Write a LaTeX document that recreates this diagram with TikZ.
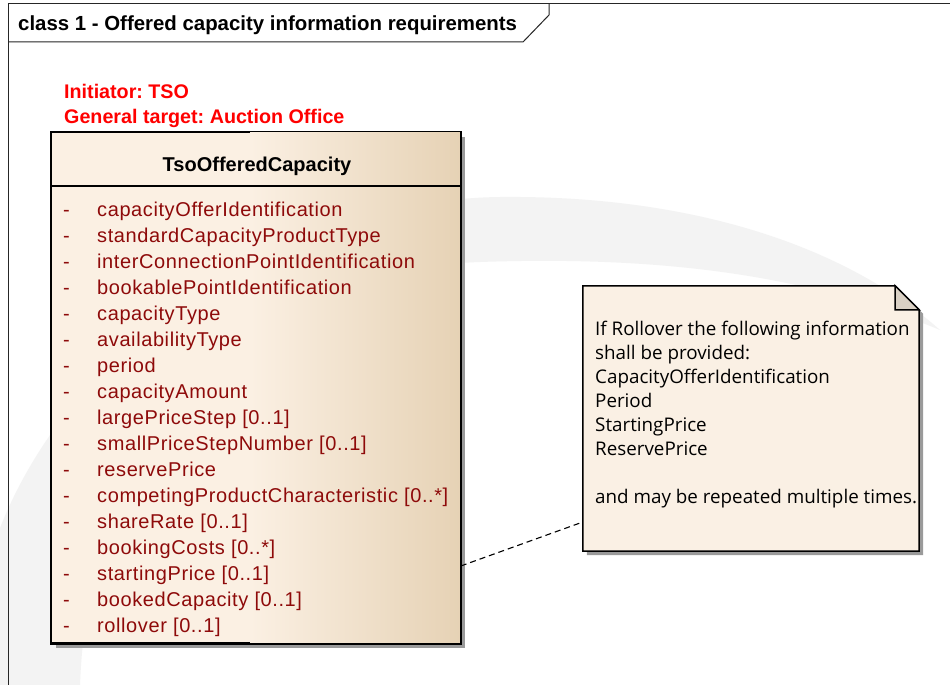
\documentclass[tikz,border=0pt]{standalone}
\usepackage{fontspec}
\setmainfont{Liberation Sans}
\newfontfamily\notefont{Open Sans}
\newfontfamily\attrfont[LetterSpace=3]{Liberation Sans}
\usetikzlibrary{calc}
\definecolor{cream}{HTML}{FBF0E3}
\definecolor{tanc}{HTML}{E6D2B5}
\definecolor{attrred}{HTML}{8E0A0A}
\definecolor{notefill}{HTML}{FAF0E4}
\definecolor{foldfill}{HTML}{D9D0C4}
\definecolor{wm}{HTML}{F3F3F3}
\definecolor{hdrred}{HTML}{FF0000}
\definecolor{shadowc}{HTML}{9A9A9A}
\frenchspacing
\begin{document}
\begin{tikzpicture}[x=1pt,y=-1pt,
  attr/.style={anchor=base west, inner sep=0pt, text=attrred, font=\attrfont\fontsize{20}{24}\selectfont},
  dashmark/.style={anchor=base west, inner sep=0pt, text=attrred, font=\fontsize{20}{24}\selectfont},
  noteline/.style={anchor=base west, inner sep=0pt, font=\notefont\fontsize{18.8}{24}\selectfont},
  redline/.style={anchor=base west, inner sep=0pt, text=hdrred, font=\bfseries\fontsize{19.7}{24}\selectfont},
  framel/.style={line width=1pt, draw=black!85},
  boxline/.style={line width=1.5pt, draw=black},
  shadowbox/.style={fill=shadowc, draw=none}]
\useasboundingbox (0,0) rectangle (950,685);
\fill[white] (0,0) rectangle (950,685);
% watermark
\begin{scope}
\clip (0,0) rectangle (950,685);
\fill[wm] (-30,685) .. controls (-30,400) and (250,200) .. (500,197)
  .. controls (700,195) and (850,250) .. (940,330)
  .. controls (820,280) and (680,255) .. (480,262)
  .. controls (250,270) and (90,420) .. (80,685) -- cycle;
\end{scope}
% frame
\draw[framel] (8,685) -- (8,4) -- (950,4);
\draw[framel] (8,42) -- (523,42) -- (549,15) -- (549,4);
\node[anchor=base west, inner sep=0pt, font=\bfseries\fontsize{20.4}{24}\selectfont] (title) at (18,31) {class 1 - Offered capacity information requirements};
% red texts
\node[redline] (init) at (64,99) {Initiator: TSO};
\node[redline] (gen) at (64,123) {General target: Auction Office};
% class box
\fill[shadowbox] (56,137) rectangle (465,648);
\node[boxline, fill=cream, minimum width=409pt, minimum height=511pt, inner sep=0pt] (cls) at (255.5,387.5) {};
\shade[left color=cream, right color=tanc] (250,132) rectangle (460,643);
\draw[boxline] (cls.north west) rectangle (cls.south east);
\draw[boxline] (cls.west |- 0,186) -- (cls.east |- 0,186);
\node[anchor=base, inner sep=0pt, font=\bfseries\fontsize{20}{24}\selectfont] (cname) at (257,171) {TsoOfferedCapacity};
\foreach \t [count=\i] in {capacityOfferIdentification,standardCapacityProductType,interConnectionPointIdentification,bookablePointIdentification,capacityType,availabilityType,period,capacityAmount,largePriceStep [0..1],smallPriceStepNumber [0..1],reservePrice,competingProductCharacteristic [0..*],shareRate [0..1],bookingCosts [0..*],startingPrice [0..1],bookedCapacity [0..1],rollover [0..1]}{
  \pgfmathsetmacro\yy{216+26*(\i-1)}
  \node[dashmark] (d\i) at (63,\yy) {-};
  \node[attr] (a\i) at (97,\yy) {\t};
}
% note
\node[minimum width=336pt, minimum height=265pt, inner sep=0pt] (note) at (751,418.5) {};
\fill[shadowbox] ([xshift=4pt,yshift=-4pt]note.north west) -- ([xshift=-20pt,yshift=-4pt]note.north east) -- ([xshift=4pt,yshift=-28pt]note.north east) -- ([xshift=4pt,yshift=-4pt]note.south east) -- ([xshift=4pt,yshift=-4pt]note.south west) -- cycle;
\filldraw[boxline, fill=notefill] (note.north west) -- ([xshift=-24pt]note.north east) -- ([yshift=-24pt]note.north east) -- (note.south east) -- (note.south west) -- cycle;
\filldraw[boxline, fill=foldfill, line join=miter] ([xshift=-24pt]note.north east) -- ([xshift=-24pt,yshift=-24pt]note.north east) -- ([yshift=-24pt]note.north east) -- cycle;
\node[noteline] (n1) at (595,335) {If Rollover the following information};
\node[noteline] (n2) at (595,359) {shall be provided:};
\node[noteline] (n3) at (595,383) {CapacityOfferIdentification};
\node[noteline] (n4) at (595,407) {Period};
\node[noteline] (n5) at (595,431) {StartingPrice};
\node[noteline] (n6) at (595,455) {ReservePrice};
\node[noteline] (n7) at (595,503) {and may be repeated multiple times.};
% connector
\draw[line width=1.1pt, dash pattern=on 6pt off 4pt] ([yshift=-178.5pt]cls.east) -- ([yshift=-103.5pt]note.west);
\end{tikzpicture}
\end{document}
